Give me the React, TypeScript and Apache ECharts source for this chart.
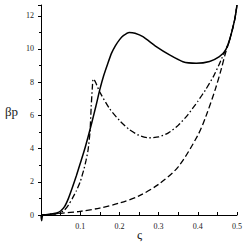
import React, { useEffect, useRef } from "react";
import * as echarts from "echarts";

const solidX = [0, 0.0015, 0.004, 0.01, 0.02, 0.03, 0.04, 0.05, 0.06, 0.07, 0.08, 0.09, 0.1, 0.11, 0.12, 0.13, 0.14, 0.15, 0.16, 0.17, 0.18, 0.19, 0.2, 0.21, 0.225, 0.24, 0.26, 0.294, 0.328, 0.362, 0.396, 0.43, 0.455, 0.47, 0.481, 0.494, 0.5];
const solidY = [0, -0.35, -0.02, 0.02, 0.04, 0.07, 0.12, 0.24, 0.5, 1.0, 1.65, 2.35, 3.1, 3.85, 4.7, 5.6, 6.55, 7.55, 8.4, 9.1, 9.75, 10.2, 10.55, 10.8, 11.0, 10.95, 10.74, 10.14, 9.64, 9.23, 9.14, 9.25, 9.54, 9.9, 10.54, 11.75, 12.65];

const dashDotX = [0, 0.02, 0.04, 0.05, 0.06, 0.07, 0.08, 0.09, 0.1, 0.11, 0.115, 0.12, 0.125, 0.128, 0.131, 0.133, 0.137, 0.14, 0.15, 0.175, 0.2, 0.225, 0.25, 0.275, 0.3, 0.325, 0.35, 0.375, 0.4, 0.42, 0.44, 0.455, 0.47, 0.481, 0.494, 0.5];
const dashDotY = [0, 0.02, 0.08, 0.15, 0.3, 0.6, 1.0, 1.45, 2.0, 2.8, 3.3, 3.9, 5.0, 6.5, 7.7, 8.2, 8.1, 7.95, 7.4, 6.4, 5.7, 5.15, 4.8, 4.65, 4.7, 4.95, 5.4, 6.05, 6.85, 7.55, 8.35, 9.1, 9.9, 10.54, 11.75, 12.65];

const dashedX = [0, 0.05, 0.1, 0.15, 0.2, 0.25, 0.3, 0.35, 0.4, 0.42, 0.445, 0.46, 0.47, 0.481, 0.494, 0.5];
const dashedY = [0, 0.1, 0.22, 0.42, 0.72, 1.15, 1.85, 2.9, 4.8, 5.9, 7.6, 8.8, 9.7, 10.54, 11.75, 12.65];

const xTicks = [0.1, 0.2, 0.3, 0.4, 0.5];
const yTicks = [0, 2, 4, 6, 8, 10, 12];

const zip = (xs: number[], ys: number[]) => xs.map((x, i) => [x, ys[i]]);

export default function App() {
  const ref = useRef<HTMLDivElement>(null);
  useEffect(() => {
    if (!ref.current) return;
    const chart = echarts.init(ref.current, null, { renderer: "svg" });
    const font = "Liberation Serif";
    chart.setOption({
      animation: false,
      backgroundColor: "#ffffff",
      grid: { left: 41, right: 10, top: 5, bottom: 32 },
      xAxis: {
        type: "value",
        min: 0,
        max: 0.5,
        interval: 0.1,
        axisLine: { onZero: false, lineStyle: { color: "#000", width: 1 } },
        axisTick: { inside: true, length: 3, lineStyle: { color: "#000" } },
        minorTick: { show: true, splitNumber: 2, length: 3, lineStyle: { color: "#000" } },
        splitLine: { show: false },
        axisLabel: {
          color: "#222",
          fontFamily: font,
          fontSize: 8,
          margin: 7,
          formatter: (v: number) => (xTicks.some((t) => Math.abs(t - v) < 1e-9) ? String(Math.round(v * 10) / 10) : ""),
        },
      },
      yAxis: {
        type: "value",
        min: 0,
        max: 12.65,
        interval: 2,
        axisLine: { show: true, lineStyle: { color: "#000", width: 1 } },
        axisTick: { show: true, inside: false, length: 3, lineStyle: { color: "#000" } },
        minorTick: { show: true, splitNumber: 2, length: 2, lineStyle: { color: "#000" } },
        splitLine: { show: false },
        axisLabel: {
          color: "#222",
          fontFamily: font,
          fontSize: 8,
          margin: 7,
          showMaxLabel: false,
          formatter: (v: number) => (yTicks.includes(v) ? String(v) : ""),
        },
      },
      graphic: [
        { type: "text", left: 5, top: 105, style: { text: "βp", font: `13px ${font}`, fill: "#222" } },
        { type: "text", left: 137, top: 228, style: { text: "ς", font: `13px ${font}`, fill: "#222" } },
      ],
      series: [
        {
          type: "line",
          data: zip(dashedX, dashedY),
          showSymbol: false,
          smooth: 0.3,
          clip: false,
          lineStyle: { color: "#000", width: 1.3, type: [6, 3] },
        },
        {
          type: "line",
          data: zip(dashDotX, dashDotY),
          showSymbol: false,
          smooth: 0.2,
          clip: false,
          lineStyle: { color: "#000", width: 1.3, type: [6, 2.5, 1.5, 2.5] },
        },
        {
          type: "line",
          data: zip(solidX, solidY),
          showSymbol: false,
          smooth: 0.2,
          clip: false,
          lineStyle: { color: "#000", width: 1.5 },
        },
      ],
    });
    return () => chart.dispose();
  }, []);
  return <div ref={ref} style={{ width: 247, height: 247, position: "absolute", left: 0, top: 0 }} />;
}
